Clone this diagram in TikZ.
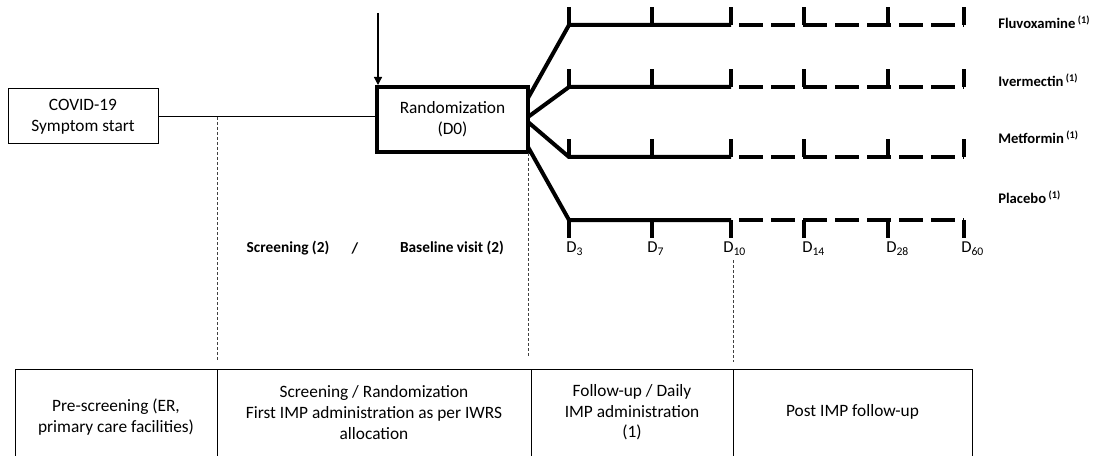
\documentclass[tikz,border=0pt]{standalone}
\usepackage{fontspec}
\setmainfont{Carlito}
\usetikzlibrary{arrows.meta,positioning}

\begin{document}
\begin{tikzpicture}[x=0.75pt, y=-0.75pt,
    box/.style={draw, align=center, inner sep=0pt, font=\fontsize{13}{15.5}\selectfont},
    arm/.style={line width=3pt},
    armdash/.style={line width=3pt, dash pattern=on 18pt off 6pt, dash phase=18pt},
    guide/.style={black!75, line width=0.75pt, dash pattern=on 2.25pt off 1.5pt},
    armlabel/.style={anchor=west, inner sep=0pt, font=\fontsize{11}{13}\selectfont\bfseries},
    phaselabel/.style={inner sep=0pt, font=\fontsize{11.5}{13}\selectfont\bfseries},
    daylabel/.style={anchor=north west, inner sep=0pt, font=\fontsize{12.5}{14}\selectfont},
    cell/.style={align=center, inner sep=0pt, font=\fontsize{13}{15.5}\selectfont}]

	\useasboundingbox (0,0) rectangle (1109,456);
	\clip (0,0) rectangle (1109,456);

	% symptom start and randomization
	\node[box, line width=0.75pt, minimum width=112.5pt, minimum height=41.25pt] (covid) at (83,116.5) {COVID-19\\Symptom start};
	\node[box, line width=3pt, minimum width=113.25pt, minimum height=48.75pt] (rand) at (452.5,119.5) {Randomization\\(D0)};
	\draw[line width=1.2pt] (covid.east) -- (covid.east -| rand.west);

	\coordinate (arrtop) at (378,13);
	\draw[line width=0.9pt, -{Triangle[length=6pt,width=6pt]}] (arrtop) -- (arrtop |- rand.north);

	% treatment arms
	\foreach \row/\ys/\y/\ly/\dir/\drug in {fluvo/98/25/22/-1/Fluvoxamine, iver/117/87/80/-1/Ivermectin, metf/122/157/137/-1/Metformin, plac/147/220/197/1/Placebo}{
		\coordinate (\row-s) at (528,\ys);
		\coordinate (\row-a) at (569,\y);
		\coordinate (\row-b) at (731,\y);
		\coordinate (\row-c) at (964,\y);
		\draw[arm] (\row-s) -- (\row-a) -- (\row-b);
		\draw[armdash] (\row-b) -- (\row-c);
		\foreach \t in {569,652,731,804,888,964}
			\draw[arm] (\t,\y) -- (\t,\y+18*\dir);
		\node[armlabel] (\row) at (998,\ly) {\drug\,\textsuperscript{(1)}};
	}

	% visit days
	\foreach \name/\x/\d in {d3/566/3, d7/647/7, d10/723/10, d14/802/14, d28/886/28, d60/961/60}
		\node[daylabel] (\name) at (\x,242) {D\textsubscript{\d}};

	\node[phaselabel] (screen) at (288,248) {Screening (2)};
	\node[phaselabel] (slash) at (355,248) {/};
	\node[phaselabel] (base) at (452,248) {Baseline visit (2)};

	% period limits
	\draw[guide] (217,117) -- (217,360);
	\draw[guide] (528,153) -- (528,358);
	\draw[guide] (733,260) -- (733,362);

	% periods
	\draw[line width=0.75pt] (15,369) -- (972,369);
	\foreach \x in {15,217,531,733,972}
		\draw[line width=0.75pt] (\x,369) -- (\x,460);
	\node[cell] (pre) at (116,417) {Pre-screening (ER,\\primary care facilities)};
	\node[cell] (scr) at (374,412.5) {Screening / Randomization\\First IMP administration as per IWRS\\allocation};
	\node[cell] (fup) at (632,412.5) {Follow-up / Daily\\IMP administration\\(1)};
	\node[cell] (post) at (852.5,412) {Post IMP follow-up};
\end{tikzpicture}
\end{document}
